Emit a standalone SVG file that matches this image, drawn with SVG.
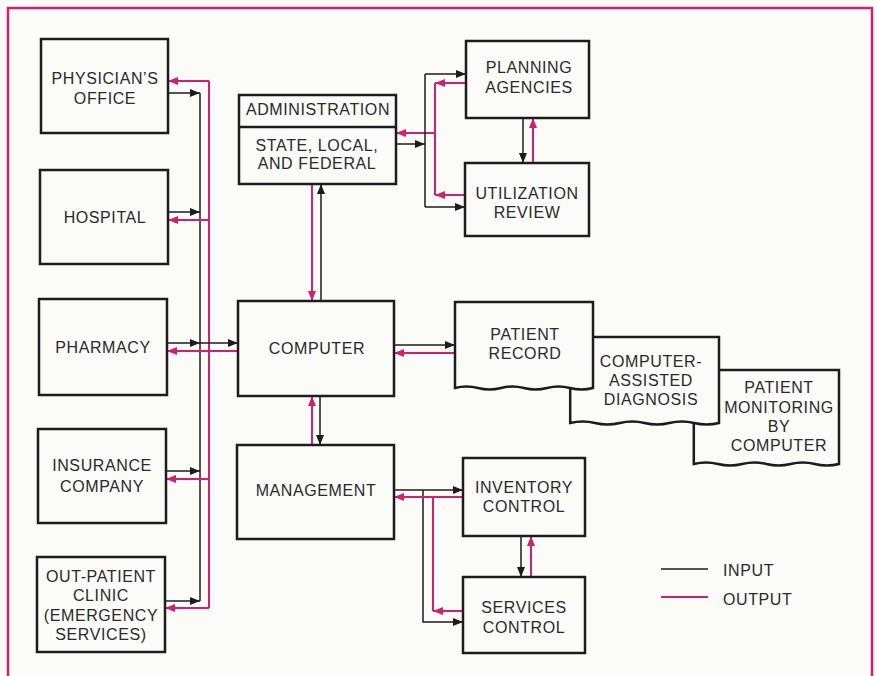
<svg xmlns="http://www.w3.org/2000/svg" width="877" height="676" viewBox="0 0 877 676">
<defs>
<style>
.box{fill:none;stroke:#1c1c1c;stroke-width:2.5}
.in{fill:none;stroke:#1c1c1c;stroke-width:1.5}
.out{fill:none;stroke:#d2206e;stroke-width:2}
text{font-family:"Liberation Sans",Arial,sans-serif;font-size:16px;letter-spacing:0.6px;fill:#2a2a2a;text-anchor:middle}
.lg{text-anchor:start}
</style>
<marker id="ab" markerUnits="userSpaceOnUse" markerWidth="10" markerHeight="8" refX="10" refY="4" orient="auto"><path d="M0,0 L10,4 L0,8 Z" fill="#1c1c1c"/></marker>
<marker id="ap" markerUnits="userSpaceOnUse" markerWidth="10" markerHeight="8" refX="10" refY="4" orient="auto"><path d="M0,0 L10,4 L0,8 Z" fill="#d2206e"/></marker>
</defs>
<rect x="0" y="0" width="877" height="676" fill="#fbfbf8"/>
<rect x="8" y="8" width="864" height="700" fill="none" stroke="#d2206e" stroke-width="2.5"/>

<g id="connectors">
<path class="in" d="M200,93 V601"/>
<path class="out" d="M209,81 V608"/>
<path class="in" d="M168,93 H200" marker-end="url(#ab)"/>
<path class="out" d="M209,81 H168" marker-end="url(#ap)"/>
<path class="in" d="M168,212 H200" marker-end="url(#ab)"/>
<path class="out" d="M209,220 H168" marker-end="url(#ap)"/>
<path class="in" d="M167,343 H200" marker-end="url(#ab)"/>
<path class="in" d="M200,343 H238" marker-end="url(#ab)"/>
<path class="out" d="M238,351 H167" marker-end="url(#ap)"/>
<path class="in" d="M166,471 H200" marker-end="url(#ab)"/>
<path class="out" d="M209,479 H166" marker-end="url(#ap)"/>
<path class="in" d="M165,601 H200" marker-end="url(#ab)"/>
<path class="out" d="M209,608 H165" marker-end="url(#ap)"/>
<path class="out" d="M312,184 V301" marker-end="url(#ap)"/>
<path class="in" d="M321,301 V184" marker-end="url(#ab)"/>
<path class="out" d="M435,133 H396" marker-end="url(#ap)"/>
<path class="in" d="M396,144 H425" marker-end="url(#ab)"/>
<path class="in" d="M425,74 V207"/>
<path class="in" d="M425,74 H466" marker-end="url(#ab)"/>
<path class="in" d="M425,207 H465" marker-end="url(#ab)"/>
<path class="out" d="M435,83 V195"/>
<path class="out" d="M466,83 H435" marker-end="url(#ap)"/>
<path class="out" d="M465,195 H435" marker-end="url(#ap)"/>
<path class="in" d="M523,118 V163" marker-end="url(#ab)"/>
<path class="out" d="M533,163 V118" marker-end="url(#ap)"/>
<path class="in" d="M394,345 H455" marker-end="url(#ab)"/>
<path class="out" d="M455,353 H394" marker-end="url(#ap)"/>
<path class="out" d="M312,445 V396" marker-end="url(#ap)"/>
<path class="in" d="M320,396 V445" marker-end="url(#ab)"/>
<path class="in" d="M394,490 H463" marker-end="url(#ab)"/>
<path class="in" d="M423,490 V622 H463" marker-end="url(#ab)"/>
<path class="out" d="M463,497 H394" marker-end="url(#ap)"/>
<path class="out" d="M433,497 V611"/>
<path class="out" d="M463,611 H433" marker-end="url(#ap)"/>
<path class="in" d="M521,536 V577" marker-end="url(#ab)"/>
<path class="out" d="M531,577 V536" marker-end="url(#ap)"/>
</g>

<g id="physicians-office">
<rect class="box" x="41" y="39" width="127" height="94"/>
<text x="105" y="84">PHYSICIAN’S</text>
<text x="105" y="104">OFFICE</text>
</g>
<g id="hospital">
<rect class="box" x="40" y="170" width="128" height="94"/>
<text x="105" y="223">HOSPITAL</text>
</g>
<g id="pharmacy">
<rect class="box" x="39" y="299" width="128" height="96"/>
<text x="103" y="353">PHARMACY</text>
</g>
<g id="insurance-company">
<rect class="box" x="38" y="429" width="128" height="94"/>
<text x="102" y="471">INSURANCE</text>
<text x="102" y="492">COMPANY</text>
</g>
<g id="out-patient-clinic">
<rect class="box" x="37" y="557" width="128" height="95"/>
<text x="101" y="582">OUT-PATIENT</text>
<text x="101" y="601">CLINIC</text>
<text x="101" y="621">(EMERGENCY</text>
<text x="101" y="640">SERVICES)</text>
</g>
<g id="administration">
<rect class="box" x="239" y="95" width="157" height="89"/>
<line class="box" x1="239" y1="127" x2="396" y2="127"/>
<text x="318" y="115">ADMINISTRATION</text>
<text x="317" y="151">STATE, LOCAL,</text>
<text x="317" y="169">AND FEDERAL</text>
</g>
<g id="computer">
<rect class="box" x="238" y="301" width="156" height="95"/>
<text x="317" y="354">COMPUTER</text>
</g>
<g id="management">
<rect class="box" x="237" y="445" width="157" height="94"/>
<text x="316" y="496">MANAGEMENT</text>
</g>
<g id="planning-agencies">
<rect class="box" x="466" y="41" width="123" height="77"/>
<text x="529" y="73">PLANNING</text>
<text x="529" y="93">AGENCIES</text>
</g>
<g id="utilization-review">
<rect class="box" x="465" y="163" width="124" height="73"/>
<text x="527" y="199">UTILIZATION</text>
<text x="527" y="218">REVIEW</text>
</g>
<g id="patient-record">
<path class="box" d="M455,388 V302 H593 V388 q-11.5,3 -23,0 t-23,0 t-23,0 t-23,0 t-23,0 t-23,0 Z"/>
<text x="525" y="340">PATIENT</text>
<text x="525" y="359">RECORD</text>
</g>
<g id="computer-assisted-diagnosis">
<path class="box" d="M593,337 H719 V423 q-12.4,3 -24.8,0 t-24.8,0 t-24.8,0 t-24.8,0 t-24.8,0 t-24.8,0 V389"/>
<text x="651" y="367">COMPUTER-</text>
<text x="651" y="386">ASSISTED</text>
<text x="651" y="405">DIAGNOSIS</text>
</g>
<g id="patient-monitoring">
<path class="box" d="M719,370 H839 V464 q-12.1,3 -24.2,0 t-24.2,0 t-24.2,0 t-24.2,0 t-24.2,0 t-24.2,0 V423"/>
<text x="779" y="393">PATIENT</text>
<text x="779" y="413">MONITORING</text>
<text x="779" y="432">BY</text>
<text x="779" y="451">COMPUTER</text>
</g>
<g id="inventory-control">
<rect class="box" x="463" y="458" width="122" height="78"/>
<text x="524" y="493">INVENTORY</text>
<text x="524" y="512">CONTROL</text>
</g>
<g id="services-control">
<rect class="box" x="463" y="577" width="122" height="76"/>
<text x="524" y="613">SERVICES</text>
<text x="524" y="633">CONTROL</text>
</g>
<g id="legend">
<line class="in" x1="661" y1="569" x2="708" y2="569"/>
<line class="out" x1="661" y1="597" x2="708" y2="597"/>
<text class="lg" x="723" y="576">INPUT</text>
<text class="lg" x="723" y="605">OUTPUT</text>
</g>
</svg>
